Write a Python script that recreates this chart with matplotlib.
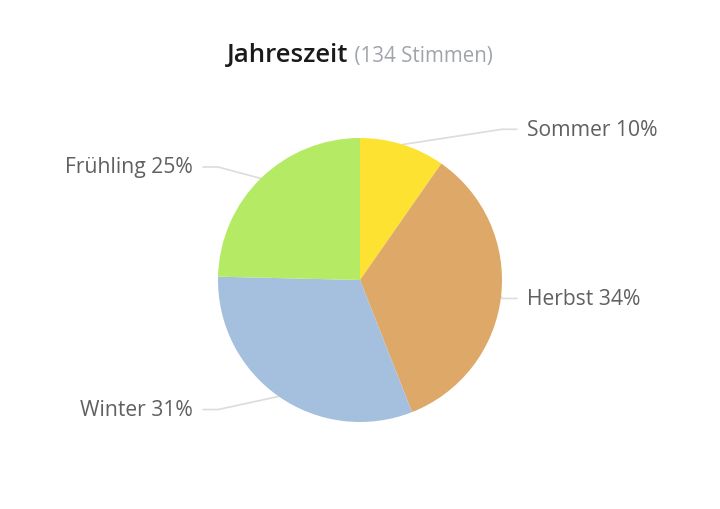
import matplotlib
matplotlib.use("Agg")
import matplotlib.pyplot as plt
import numpy as np

plt.rcParams['font.family'] = ['Open Sans', 'DejaVu Sans']

# data
categories = ['Sommer', 'Herbst', 'Winter', 'Frühling']
votes = [13, 46, 42, 33]
percent_labels = ['10%', '34%', '31%', '25%']
colors = ['#fde232', '#dea868', '#a5bfdf', '#b5ea64']
title = 'Jahreszeit'
subtitle = '(134 Stimmen)'

W, H = 720, 510
fig = plt.figure(figsize=(W / 100, H / 100), dpi=100)
ax = fig.add_axes([0, 0, 1, 1])

cx, cy, r = 360, 229, 142
wedges, _ = ax.pie(votes, colors=colors, startangle=90, counterclock=False,
                   center=(cx, cy), radius=r, frame=True,
                   wedgeprops=dict(linewidth=0))
ax.set_xlim(0, W)
ax.set_ylim(0, H)
ax.set_aspect('equal')
ax.axis('off')

# labels with connector lines
for w, name, pct in zip(wedges, categories, percent_labels):
    ang = np.deg2rad((w.theta1 + w.theta2) / 2)
    ex, ey = cx + r * np.cos(ang), cy + r * np.sin(ang)
    side = 1 if np.cos(ang) >= 0 else -1
    ly = cy + 158 * np.sin(ang)
    bx = cx + side * 142
    tx = cx + side * 157
    ax.plot([ex, bx, tx], [ey, ly, ly], color='#dcdcdc', lw=1.2,
            solid_capstyle='round', zorder=0)
    ax.text(tx + side * 10, ly, f'{name} {pct}', fontsize=15.2, color='#606060',
            ha='left' if side > 0 else 'right', va='center')

# title
t1 = fig.text(0, 0, title, fontsize=18.5, color='#1a1a1a', weight='semibold',
              va='baseline', ha='left')
t2 = fig.text(0, 0, ' ' + subtitle, fontsize=14.8, color='#a0a4ab',
              va='baseline', ha='left')
fig.canvas.draw()
rend = fig.canvas.get_renderer()
w1 = t1.get_window_extent(rend).width
w2 = t2.get_window_extent(rend).width
x0 = (W - w1 - w2) / 2
base = (H - 62) / H
t1.set_position((x0 / W, base))
t2.set_position(((x0 + w1) / W, base))

fig.savefig('out.png', dpi=100, facecolor='white')
